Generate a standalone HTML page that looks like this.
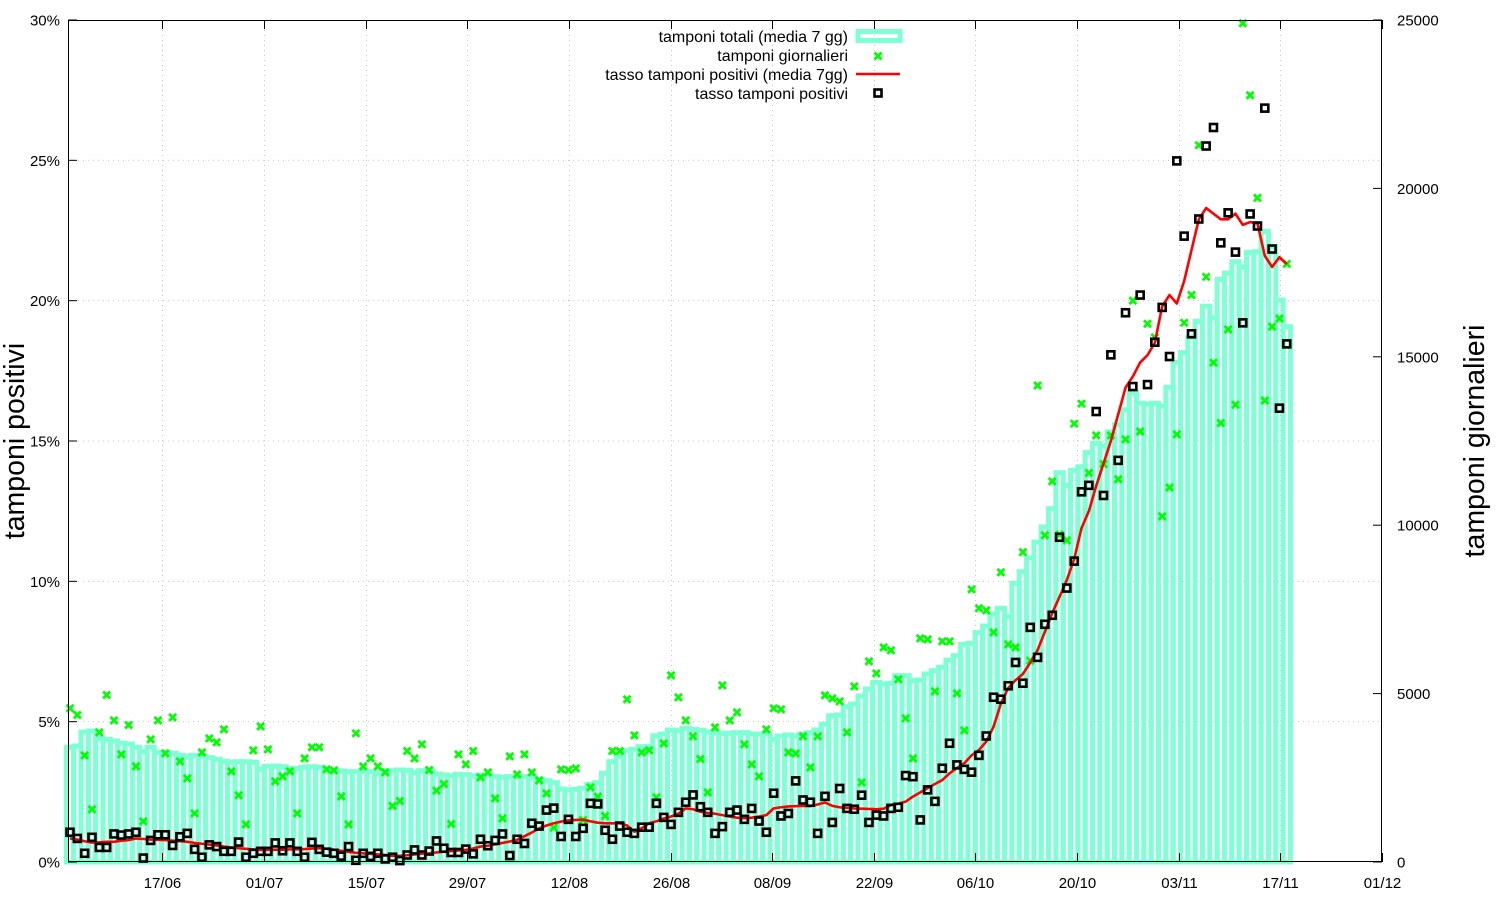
<!DOCTYPE html>
<html><head><meta charset="utf-8"><style>
html,body{margin:0;padding:0;background:#fff;}
svg{display:block;font-family:"Liberation Sans",sans-serif;}
</style></head><body>
<svg id="chart" width="1500" height="900" viewBox="0 0 1500 900" xmlns="http://www.w3.org/2000/svg">
<g id="grid"></g>
<g id="bars"></g>
<g id="greens"></g>
<g id="redline"></g>
<g id="squares"></g>
<rect x="68.5" y="20.5" width="1313" height="841" fill="none" stroke="#000" stroke-width="1"/>
<g id="axes"></g>
<text transform="translate(24,441) rotate(-90)" text-anchor="middle" font-size="28.5">tamponi positivi</text>
<text transform="translate(1484,441) rotate(-90)" text-anchor="middle" font-size="28.5">tamponi giornalieri</text>
<g font-size="16" text-anchor="end">
  <g>
    <text x="848" y="42">tamponi totali (media 7 gg)</text>
    <rect x="858" y="31.5" width="42" height="9" fill="none" stroke="#7fffd4" stroke-width="5"/>
  </g>
  <g>
    <text x="848" y="61">tamponi giornalieri</text>
    <path d="M874.5,52.5 L881.5,59.5 M881.5,52.5 L874.5,59.5" stroke="#00ff00" stroke-width="2.8"/>
  </g>
  <g>
    <text x="848" y="80">tasso tamponi positivi (media 7gg)</text>
    <line x1="856" y1="74" x2="900" y2="74" stroke="#ff0000" stroke-width="2.5"/>
  </g>
  <g>
    <text x="848" y="99">tasso tamponi positivi</text>
    <rect x="874.5" y="89.5" width="7" height="7" fill="none" stroke="#000" stroke-width="2.6"/>
  </g>
</g>
</svg>
<script>
const totali = [3405,3444,3860,3890,3672,3642,3593,3523,3504,3405,3276,3405,3256,3256,3226,3167,3137,3167,3147,3098,3048,2989,2959,2979,2979,2959,2751,2840,2850,2830,2781,2781,2811,2830,2811,2761,2722,2702,2682,2682,2692,2682,2633,2712,
2712,2732,2722,2652,2712,2702,2613,2583,2553,2603,2593,2553,2583,2583,2534,2514,2534,2534,2534,2514,2454,2415,2355,2167,2138,2158,2187,2306,2355,2633,2979,3127,3306,3345,3425,3425,3751,3800,3919,3900,3969,3939,3910,3860,3830,
3820,3820,3840,3840,3800,3800,3800,3642,3741,3771,3741,3800,3840,3919,4088,4345,4365,4612,4691,4929,5137,5335,5285,5305,5532,5532,5384,5404,5582,5681,5780,5998,6126,6463,6493,6809,7007,7363,7533,7284,8274,8620,9030,
9500,9950,10490,11560,11182,11627,11731,12156,12432,12346,12770,12984,13426,13937,13619,13598,13619,13533,14094,14837,15122,15576,16054,16500,16158,17301,17482,17821,17663,18097,18118,18720,18278,16686,15894];
const giornalieri = [4563,4365,3167,1564,3850,4958,4206,3197,4068,2840,1207,3642,4206,3226,4295,2989,2484,1445,3256,3672,3553,3939,2692,1980,1118,3316,4028,3345,2395,2543,2692,1445,3078,3405,3405,2751,2722,1950,1118,3821,2840,3078,2840,2662,
1663,1811,3296,3078,3494,2732,2118,2316,1128,3197,2900,3296,2514,2662,1890,1296,3137,2603,3197,2662,2425,2039,1019,2751,2732,2781,1247,2217,1940,1366,3296,3296,4830,3761,3256,3316,1920,3523,5542,4889,4206,3732,3058,2068,3998,
5245,4206,4443,3494,2900,2543,3939,4563,4533,3256,3226,3732,2811,3732,4948,4859,4770,3850,5216,2365,5958,5602,6374,6285,5424,4266,3078,6641,6611,5067,6552,6552,5008,3909,8096,7533,7472,6819,8600,6463,6374,
9200,5977,14148,9700,11300,9720,9550,13014,13608,11553,12666,11817,12666,11363,12547,16668,12782,15980,15576,10261,11119,12696,16009,16835,21283,17375,14825,13034,15811,13578,24905,22767,19718,13703,15894,16137,17758];
const tasso = [1.06,0.84,0.31,0.88,0.52,0.52,1.00,0.96,1.00,1.06,0.14,0.77,0.97,0.97,0.59,0.90,1.02,0.45,0.17,0.61,0.55,0.38,0.38,0.71,0.17,0.31,0.38,0.38,0.68,0.40,0.68,0.38,0.17,0.70,0.45,0.35,0.31,0.21,0.55,0.06,0.31,0.20,0.31,0.11,
0.17,0.05,0.25,0.43,0.25,0.39,0.75,0.49,0.34,0.34,0.46,0.29,0.81,0.58,0.77,1.00,0.23,0.81,0.66,1.38,1.28,1.85,1.92,0.91,1.52,0.91,1.20,2.09,2.07,1.13,0.81,1.28,1.06,1.02,1.24,1.24,2.09,1.59,1.34,1.77,2.13,2.39,1.97,1.77,1.02,
1.26,1.77,1.85,1.52,1.91,1.46,1.06,2.45,1.64,1.73,2.89,2.21,2.13,1.02,2.34,1.41,2.62,1.91,1.88,2.38,1.41,1.67,1.64,1.91,1.95,3.08,3.04,1.50,2.57,2.16,3.34,4.23,3.46,3.30,3.20,3.80,4.49,5.87,5.80,6.28,7.11,6.37,8.36,
7.29,8.47,8.79,11.57,9.76,10.72,13.19,13.42,16.05,13.06,18.07,14.31,19.57,16.94,20.20,17.01,18.52,19.76,18.01,24.98,22.30,18.82,22.91,25.51,26.17,22.06,23.13,21.73,19.21,23.09,22.66,26.86,21.84,16.17,18.46];
const tassoMedia = [0.84,0.80,0.74,0.69,0.70,0.72,0.72,0.76,0.78,0.84,0.82,
0.80,0.79,0.78,0.76,0.74,0.72,0.68,0.65,0.62,0.59,
0.55,0.52,0.49,0.47,0.45,0.43,0.43,0.44,0.44,0.45,
0.45,0.46,0.48,0.49,0.47,0.44,0.40,0.36,0.33,0.31,0.29,0.27,0.25,
0.22,0.22,0.24,0.27,0.30,0.31,0.34,0.37,0.39,0.41,0.43,0.48,0.55,
0.58,0.63,0.68,0.73,0.79,0.92,1.05,1.20,1.30,1.38,1.44,1.48,1.50,1.51,
1.45,1.40,1.38,1.38,1.38,1.30,1.08,1.20,1.38,1.45,1.55,1.62,1.72,1.91,1.88,1.79,1.75,1.72,
1.67,1.62,1.58,1.56,1.58,1.62,1.67,1.91,1.95,1.98,1.99,
2.00,1.99,2.05,2.12,2.00,1.95,1.93,1.91,1.90,1.89,1.88,1.90,2.03,2.08,2.15,2.33,
2.48,2.63,2.78,2.92,3.16,3.35,3.52,3.80,3.99,4.29,4.82,5.65,6.20,6.48,6.70,7.10,
7.55,8.20,8.87,9.45,10.05,10.80,11.90,12.50,13.40,14.20,15.00,15.95,16.90,17.30,17.80,18.06,18.50,19.80,20.20,19.90,20.70,21.80,22.90,23.30,23.10,22.90,22.90,23.10,22.70,22.80,22.75,21.60,21.20,21.55,21.30];
const xTickLabels = ["17/06","01/07","15/07","29/07","12/08","26/08","08/09","22/09","06/10","20/10","03/11","17/11","01/12"];
const xTickDays = [13,27,41,55,69,83,97,111,125,139,153,167,181];
const leftTicks = [0,5,10,15,20,25,30];
const rightTicks = [0,5000,10000,15000,20000,25000];

const NS="http://www.w3.org/2000/svg";
const X0=68,X1=1382,Y0=862,Y1=20;
const dayMin=0, dayMax=181;
function xs(d){return X0+(d-dayMin)/(dayMax-dayMin)*(X1-X0);}
function xi(i){return 70+i*7.33;}
function yL(p){return Y0-p/30*(Y0-Y1);}
function yR(v){return Y0-v/25000*(Y0-Y1);}
function mk(tag,attrs,parent){const e=document.createElementNS(NS,tag);for(const k in attrs)e.setAttribute(k,attrs[k]);parent.appendChild(e);return e;}

const grid=document.getElementById('grid'),axes=document.getElementById('axes');
leftTicks.forEach(t=>{
  const y=yL(t);
  if(t>0&&t<30){const g=mk('line',{x1:X0,x2:X1,y1:y,y2:y,stroke:'#c8c8c8','stroke-width':1,'stroke-dasharray':'1,4'},grid);
  
  }
  const tk=mk('line',{x1:X0,x2:X0+9,y1:y,y2:y,stroke:'#000','stroke-width':1},axes);
  
  
  const tx=mk('text',{x:60,y:y+5.5,'text-anchor':'end','font-size':15},axes);
  
  
  tx.textContent=t+'%';
});
rightTicks.forEach(t=>{
  const y=yR(t);
  const tk=mk('line',{x1:X1-9,x2:X1,y1:y,y2:y,stroke:'#000','stroke-width':1},axes);
  
  
  const tx=mk('text',{x:1397,y:y+5.5,'text-anchor':'start','font-size':15},axes);
  
  
  tx.textContent=t;
});
xTickDays.forEach((d,k)=>{
  const x=Math.round(xs(d))+0.5;
  if(k<xTickDays.length-1){const g=mk('line',{x1:x,x2:x,y1:Y1,y2:Y0,stroke:'#c8c8c8','stroke-width':1,'stroke-dasharray':'1,4'},grid);
  
  }
  const tk=mk('line',{x1:x,x2:x,y1:Y0,y2:Y0-9,stroke:'#000','stroke-width':1},axes);
  
  
  const tk2=mk('line',{x1:x,x2:x,y1:Y1,y2:Y1+9,stroke:'#000','stroke-width':1},axes);
  
  
  const tx=mk('text',{x:x,y:888,'text-anchor':'middle','font-size':15},axes);
  
  
  tx.textContent=xTickLabels[k];
});

const bars=document.getElementById('bars');
totali.forEach((v,i)=>{
  const xc=xi(i),y=yR(v);
  const r=mk('rect',{x:xc-3.66,y:y,width:7.33,height:Y0-y,fill:'none',stroke:'#7fffd4','stroke-width':5},bars);
  
  
});
const greens=document.getElementById('greens');
giornalieri.forEach((v,i)=>{
  const x=xi(i),y=yR(v);
  const p=mk('path',{d:`M${x-3.5},${y-3.5} L${x+3.5},${y+3.5} M${x+3.5},${y-3.5} L${x-3.5},${y+3.5}`,stroke:'#00ff00','stroke-width':2.8},greens);
  
  
});
const red=document.getElementById('redline');
const pl=mk('polyline',{points:tassoMedia.map((v,i)=>xi(i)+','+yL(v)).join(' '),fill:'none',stroke:'#ff0000','stroke-width':2.6,'stroke-linejoin':'round'},red);


const sq=document.getElementById('squares');
tasso.forEach((v,i)=>{
  const x=xi(i),y=yL(v);
  const r=mk('rect',{x:x-3.5,y:y-3.5,width:7,height:7,fill:'none',stroke:'#000','stroke-width':2.6},sq);
  
  
});
</script>
</body></html>
